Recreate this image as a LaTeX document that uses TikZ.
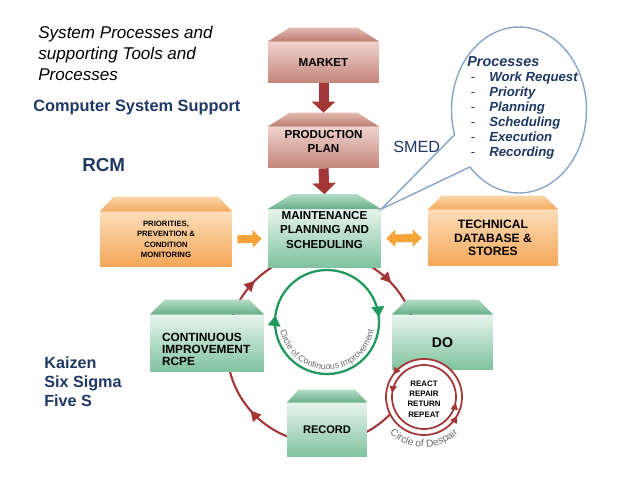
\documentclass[tikz,border=0pt]{standalone}
\usepackage{fontspec}
\setmainfont{Liberation Sans}
\usetikzlibrary{positioning,calc,arrows.meta,shapes.callouts,decorations.markings,decorations.text}

\definecolor{navy}{HTML}{1F3864}
\definecolor{darkred}{HTML}{A33636}
\definecolor{cigreen}{HTML}{21995E}
\definecolor{arrorange}{HTML}{F6A33A}
\definecolor{bubline}{HTML}{8AA4C6}
\definecolor{redlt}{HTML}{EFD3CC}
\definecolor{reddk}{HTML}{C38479}
\definecolor{redcaplt}{HTML}{E2BAB0}
\definecolor{redcapdk}{HTML}{BC7C70}
\definecolor{grnlt}{HTML}{E6F4EC}
\definecolor{grndk}{HTML}{7FC29E}
\definecolor{grncaplt}{HTML}{B2DDC4}
\definecolor{grncapdk}{HTML}{68AE89}
\definecolor{orglt}{HTML}{FDDDB8}
\definecolor{orgdk}{HTML}{F4A658}
\definecolor{orgcaplt}{HTML}{FCD6A8}
\definecolor{orgcapdk}{HTML}{F3A95F}

\tikzset{
  box/.style={inner sep=1pt, align=center, font=\bfseries\fontsize{6.6}{8.2}\selectfont},
  redbox/.style={box, top color=redlt, bottom color=reddk},
  greenbox/.style={box, top color=grnlt, bottom color=grndk},
  orangebox/.style={box, top color=orglt, bottom color=orgdk},
  redcap/.style={top color=redcaplt, bottom color=redcapdk},
  greencap/.style={top color=grncaplt, bottom color=grncapdk},
  orangecap/.style={top color=orgcaplt, bottom color=orgcapdk},
  bigtip/.tip={Triangle[width=0.46cm,length=0.22cm]},
  otip/.tip={Triangle[width=0.34cm,length=0.18cm]},
  ctip/.tip={Triangle[width=6pt,length=6pt]},
  gtip/.tip={Triangle[width=7pt,length=6pt]},
  dtip/.tip={Triangle[width=4pt,length=4pt]},
  flow/.style={darkred, line width=0.2cm, -bigtip},
  feed/.style={arrorange, line width=0.16cm, shorten <=0.1cm, shorten >=0.12cm},
  tooltext/.style={navy, inner sep=0pt, font=\bfseries\fontsize{9.3}{11}\selectfont},
}

% sloped lid on top of a box node, and a coordinate on the lid
\newcommand{\bevel}[4]{%
  \shade[#4] (#1.north west) -- ++(#2,-#3) -- ($(#1.north east)+(-#2,-#3)$) -- (#1.north east) -- cycle;
  \coordinate (#1-top) at ($(#1.north)+(0,-#3)$);
}

\begin{document}
\begin{tikzpicture}[x=0.02cm, y=-0.02cm]
\path[use as bounding box, fill=white] (0,0) rectangle (640,480);

% the big cycle, boxes sit on top of it
\coordinate (cyc) at (322,348);
\draw[darkred, line width=1.2pt, postaction={decorate}, decoration={markings,
  mark=at position 0.386 with {\arrow{ctip}},
  mark=at position 0.625 with {\arrow{ctip}},
  mark=at position 0.88 with {\arrow{ctip}}}] (cyc) circle[radius=95];

% circle of continuous improvement
\coordinate (cci) at (327,322);
\draw[cigreen, line width=1.3pt, postaction={decorate}, decoration={markings,
  mark=at position 0.52 with {\arrow{gtip}},
  mark=at position 0.985 with {\arrow{gtip}}}] (cci) circle[radius=52];
\path[decorate, decoration={text along path, text align=center, text color=gray!85!black,
  text={|\fontsize{5}{6}\selectfont|Circle of Continuous Improvement}}]
  (cci) ++(176:47.5) arc[start angle=176, end angle=4, radius=47.5];

% boxes
\node[redbox, minimum width=2.22cm, minimum height=0.82cm] (market) at (323.5,62.5) {MARKET};
\bevel{market}{22}{14}{redcap}
\node[redbox, minimum width=2.22cm, minimum height=0.82cm] (plan) at (323.5,147.5) {PRODUCTION\\PLAN\rule[-7pt]{0pt}{7pt}};
\bevel{plan}{22}{14}{redcap}
\node[greenbox, minimum width=2.26cm, minimum height=1.14cm] (maint) at (324.5,238.5) {MAINTENANCE\\PLANNING AND\\SCHEDULING\rule[-10pt]{0pt}{10pt}};
\bevel{maint}{24}{15}{greencap}
\node[orangebox, minimum width=2.64cm, minimum height=1.1cm, font=\bfseries\fontsize{4.4}{6}\selectfont] (prio) at (166,239.5) {PRIORITIES,\\PREVENTION \&\\CONDITION\\MONITORING};
\bevel{prio}{14}{15}{orangecap}
\node[orangebox, minimum width=2.6cm, minimum height=1.12cm, font=\bfseries\fontsize{6.9}{7.6}\selectfont] (tech) at (493,238) {TECHNICAL\\DATABASE \&\\STORES};
\bevel{tech}{14}{14}{orangecap}
\node[greenbox, minimum height=1.14cm, text width=1.8cm, inner xsep=0.24cm, align=left, font=\bfseries\fontsize{6.75}{7}\selectfont] (cip) at (207,343.5) {\rule{0pt}{11.5pt}CONTINUOUS\\IMPROVEMENT\\RCPE};
\bevel{cip}{15}{15}{greencap}
\node[greenbox, minimum width=2.02cm, minimum height=1.1cm, font=\bfseries\fontsize{8}{9}\selectfont] (do) at (442.5,342.5) {DO};
\bevel{do}{15}{15}{greencap}
\node[greenbox, minimum width=1.6cm, minimum height=1.08cm, font=\bfseries\fontsize{6.3}{7}\selectfont] (rec) at (327,430) {RECORD};
\bevel{rec}{12}{13}{greencap}

\draw[flow] (market.south) -- (plan-top);
\draw[flow] (plan.south) -- (maint-top);
\draw[feed, -otip] (prio.east) -- (maint.west);
\draw[feed, otip-otip] (maint.east) -- (tech.west);

% circle of despair
\coordinate (dsp) at (424,397);
\draw[darkred, line width=1pt, fill=white, postaction={decorate}, decoration={markings,
  mark=at position 0.40 with {\arrow{dtip}},
  mark=at position 0.917 with {\arrow{dtip}}}]
  (dsp) ++(0:38) arc[start angle=0, end angle=-360, radius=38];
\draw[darkred, line width=1pt, postaction={decorate}, decoration={markings,
  mark=at position 0.48 with {\arrow{dtip}},
  mark=at position 0.972 with {\arrow{dtip}}}]
  (dsp) ++(0:32) arc[start angle=0, end angle=-360, radius=32];
\node[font=\bfseries\fontsize{4.5}{5.9}\selectfont, align=center] (rrrr) at (424,399) {REACT\\REPAIR\\RETURN\\REPEAT};
\path[decorate, decoration={text along path, text align=center, text color=gray!85!black,
  text={|\fontsize{5.8}{6}\selectfont|Circle of Despair}}]
  (dsp) ++(140:50) arc[start angle=140, end angle=40, radius=50];

% speech bubble
\node[ellipse callout, draw=bubline, line width=0.8pt, fill=white, minimum width=2.7cm, minimum height=3.32cm,
  callout absolute pointer={(maint.north east)}, callout pointer arc=26] (bubble) at (519,110) {};
\node[anchor=base west, navy, inner sep=0pt, font=\bfseries\itshape\fontsize{7.5}{8.5}\selectfont] (procs) at (467,67)
  {\begin{tabular}[t]{@{}l@{\hspace{8pt}}l@{}}
   \multicolumn{2}{@{}l@{}}{\fontsize{8.2}{8.5}\selectfont Processes}\\
   \upshape\mdseries\hspace{2pt}- & Work Request\\
   \upshape\mdseries\hspace{2pt}- & Priority\\
   \upshape\mdseries\hspace{2pt}- & Planning\\
   \upshape\mdseries\hspace{2pt}- & Scheduling\\
   \upshape\mdseries\hspace{2pt}- & Execution\\
   \upshape\mdseries\hspace{2pt}- & Recording
  \end{tabular}};

% side texts
\node[anchor=north west, inner sep=0pt, align=left, font=\itshape\fontsize{9.7}{11.9}\selectfont] (title) at (38,25.5)
  {System Processes and\\supporting Tools and\\Processes};
\node[tooltext, anchor=base west] (css) at (33,112) {Computer System Support};
\node[tooltext, anchor=base west, font=\bfseries\fontsize{10.7}{12}\selectfont] (rcm) at (82,172) {RCM};
\node[tooltext, anchor=base west, font=\fontsize{9.2}{11}\selectfont] (smed) at (393,153) {SMED};
\node[tooltext, anchor=north west, align=left, font=\bfseries\fontsize{9.2}{11}\selectfont] (kaizen) at (44,356)
  {Kaizen\\Six Sigma\\Five S};
\end{tikzpicture}
\end{document}
